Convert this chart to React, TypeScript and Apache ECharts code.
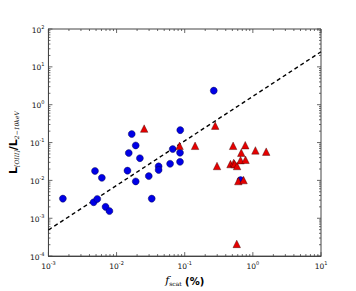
import React, { useEffect, useRef } from 'react';
import * as echarts from 'echarts';

// Blue circles
const blueX = [0.00163, 0.00482, 0.00608, 0.00461, 0.00521, 0.00689, 0.00785, 0.01445, 0.0151, 0.0191, 0.022, 0.0191, 0.0297, 0.0328, 0.0414, 0.0414, 0.061, 0.0667, 0.0853, 0.0853, 0.0167, 0.086, 0.267, 0.66];
const blueY = [0.0033, 0.0178, 0.0117, 0.00265, 0.00324, 0.002, 0.00155, 0.0181, 0.053, 0.0838, 0.0386, 0.0094, 0.013, 0.0033, 0.0236, 0.0189, 0.0275, 0.0673, 0.054, 0.031, 0.168, 0.213, 2.35, 0.0102];
// Red triangles
const redX = [0.0254, 0.28, 0.084, 0.142, 0.513, 0.773, 0.676, 1.09, 1.57, 0.298, 0.47, 0.524, 0.54, 0.586, 0.66, 0.78, 0.612, 0.73, 0.58];
const redY = [0.234, 0.28, 0.082, 0.082, 0.082, 0.085, 0.054, 0.062, 0.0575, 0.024, 0.027, 0.029, 0.027, 0.024, 0.0343, 0.035, 0.0096, 0.0102, 0.00021];
// Dashed relation
const fitX = [0.001, 10];
const fitY = [4.9e-4, 25];
// Axes
const xMin = 0.001;
const xMax = 10;
const yMin = 1e-4;
const yMax = 100;
const xDecades = [0.001, 0.01, 0.1, 1, 10];
const yDecades = [1e-4, 1e-3, 1e-2, 1e-1, 1, 10, 100];
const minorMultipliers = [2, 3, 4, 5, 6, 7, 8, 9];

const FONT = 'DejaVu Sans';

function tickLabel(v: number) {
  const e = Math.round(Math.log10(v));
  return `{b|10}{s|${e}}`;
}

const labelRich = {
  b: { fontSize: 7.5, fontFamily: FONT, color: '#111', verticalAlign: 'bottom', lineHeight: 10 },
  s: { fontSize: 5, fontFamily: FONT, color: '#111', verticalAlign: 'top', lineHeight: 10 },
};

export default function App() {
  const ref = useRef<HTMLDivElement>(null);
  useEffect(() => {
    if (!ref.current) return;
    const chart = echarts.init(ref.current, null, { renderer: 'svg' });

    const tickData: number[][] = [];
    xDecades.forEach((d, i) => {
      tickData.push([d, 1, 0, 4]);
      if (i < xDecades.length - 1) minorMultipliers.forEach((m) => tickData.push([d * m, 1, 0, 2]));
    });
    yDecades.forEach((d, i) => {
      tickData.push([1, d, 1, 4]);
      if (i < yDecades.length - 1) minorMultipliers.forEach((m) => tickData.push([1, d * m, 1, 2]));
    });

    chart.setOption({
      animation: false,
      backgroundColor: '#fff',
      grid: { left: 44, right: 35, top: 29, bottom: 30, show: true, borderColor: '#444', borderWidth: 1, backgroundColor: 'transparent' },
      xAxis: {
        type: 'log',
        logBase: 10,
        min: xMin,
        max: xMax,
        splitLine: { show: false },
        axisLine: { show: true, lineStyle: { color: '#444', width: 1 } },
        axisTick: { show: false },
        axisLabel: { formatter: tickLabel, rich: labelRich, margin: 4 },
        name: '{f|f}{sub|scat}{p| (%)}',
        nameLocation: 'middle',
        nameGap: 15,
        nameTextStyle: {
          rich: {
            f: { fontFamily: 'DejaVu Serif', fontStyle: 'italic', fontSize: 11, color: '#000', verticalAlign: 'bottom', lineHeight: 14 },
            sub: { fontFamily: 'DejaVu Serif', fontSize: 6, color: '#000', verticalAlign: 'bottom', lineHeight: 11 },
            p: { fontFamily: FONT, fontWeight: 'bold', fontSize: 10, color: '#000', verticalAlign: 'bottom', lineHeight: 14 },
          },
        },
      },
      yAxis: {
        type: 'log',
        logBase: 10,
        min: yMin,
        max: yMax,
        splitLine: { show: false },
        axisLine: { show: true, lineStyle: { color: '#444', width: 1 } },
        axisTick: { show: false },
        axisLabel: { formatter: tickLabel, rich: labelRich, margin: 4 },
        name: '{L|L}{sub|[OIII]}{L|/L}{sub|2−10keV}',
        nameLocation: 'middle',
        nameRotate: 90,
        nameGap: 22,
        nameTextStyle: {
          rich: {
            L: { fontFamily: FONT, fontWeight: 'bold', fontSize: 11, color: '#000', verticalAlign: 'bottom', lineHeight: 14 },
            sub: { fontFamily: 'DejaVu Serif', fontStyle: 'italic', fontSize: 6, color: '#000', verticalAlign: 'bottom', lineHeight: 11 },
          },
        },
      },
      series: [
        {
          type: 'custom',
          silent: true,
          z: 1,
          data: tickData,
          encode: { x: 0, y: 1 },
          renderItem: (params: any, api: any) => {
            const cs = params.coordSys;
            const kind = api.value(2);
            const len = api.value(3);
            const style = { stroke: '#444', lineWidth: 0.8 };
            if (kind === 0) {
              const px = api.coord([api.value(0), 1])[0];
              return {
                type: 'group',
                children: [
                  { type: 'line', shape: { x1: px, y1: cs.y + cs.height, x2: px, y2: cs.y + cs.height - len }, style },
                  { type: 'line', shape: { x1: px, y1: cs.y, x2: px, y2: cs.y + len }, style },
                ],
              };
            }
            const py = api.coord([1, api.value(1)])[1];
            return {
              type: 'group',
              children: [
                { type: 'line', shape: { x1: cs.x, y1: py, x2: cs.x + len, y2: py }, style },
                { type: 'line', shape: { x1: cs.x + cs.width, y1: py, x2: cs.x + cs.width - len, y2: py }, style },
              ],
            };
          },
        },
        {
          type: 'line',
          z: 2,
          data: fitX.map((x, i) => [x, fitY[i]]),
          symbol: 'none',
          lineStyle: { color: '#000', width: 1.4, type: [4, 3] },
        },
        {
          type: 'scatter',
          z: 3,
          data: blueX.map((x, i) => [x, blueY[i]]),
          symbol: 'circle',
          symbolSize: 7,
          itemStyle: { color: '#0000e6', borderColor: '#000033', borderWidth: 0.4, opacity: 1 },
        },
        {
          type: 'scatter',
          z: 4,
          data: redX.map((x, i) => [x, redY[i]]),
          symbol: 'triangle',
          symbolSize: 7.5,
          itemStyle: { color: '#e60000', borderColor: '#330000', borderWidth: 0.4, opacity: 1 },
        },
      ],
    });
    return () => chart.dispose();
  }, []);
  return <div ref={ref} style={{ width: 356, height: 291, position: 'absolute', left: 0, top: 0 }} />;
}
